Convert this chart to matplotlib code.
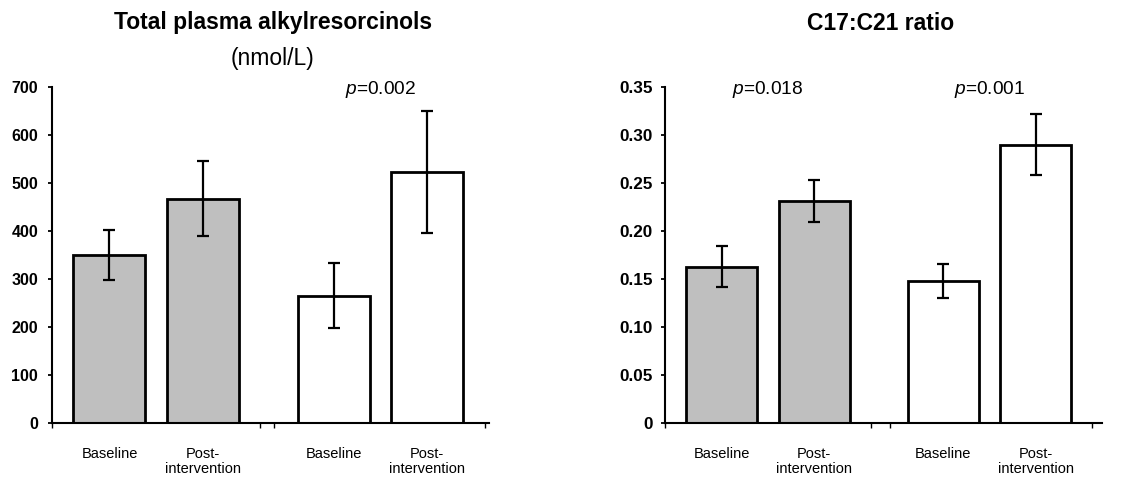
import matplotlib
matplotlib.use("Agg")
import matplotlib.pyplot as plt
import matplotlib.transforms as mtransforms

plt.rcParams['font.family'] = ['Liberation Sans', 'DejaVu Sans']
plt.rcParams['mathtext.fontset'] = 'custom'
plt.rcParams['mathtext.it'] = 'Liberation Sans:italic'
plt.rcParams['mathtext.rm'] = 'Liberation Sans'

# ---- data ----
categories = ["Baseline", "Post-\nintervention", "Baseline", "Post-\nintervention"]
group_of_bar = [0, 0, 1, 1]
group_colors = ["#bfbfbf", "#ffffff"]

total_ar_values = [350, 467, 265, 522]
total_ar_errors = [53, 78, 68, 127]
total_ar_pvalues = [None, "0.002"]
total_ar_yticks = [0, 100, 200, 300, 400, 500, 600, 700]
total_ar_yticklabels = ["0", "100", "200", "300", "400", "500", "600", "700"]

ratio_values = [0.163, 0.231, 0.148, 0.290]
ratio_errors = [0.021, 0.022, 0.018, 0.032]
ratio_pvalues = ["0.018", "0.001"]
ratio_yticks = [0, 0.05, 0.10, 0.15, 0.20, 0.25, 0.30, 0.35]
ratio_yticklabels = ["0", "0.05", "0.10", "0.15", "0.20", "0.25", "0.30", "0.35"]

# ---- layout ----
W, H = 1139, 478
fig = plt.figure(figsize=(W / 100, H / 100), dpi=100)

group_step = 2.4
half_span = 1.115
bar_width = 0.77

def draw_panel(rect, values, errors, pvals, yticks, yticklabels, ymax, xmax,
               label_pad, ysize, pgap):
    ax = fig.add_axes(rect)
    xs = [group_of_bar[i] * group_step + (i % 2) for i in range(len(values))]
    colors = [group_colors[g] for g in group_of_bar]
    ax.bar(xs, values, width=bar_width, color=colors, edgecolor="black",
           linewidth=2.0, zorder=2)
    ax.errorbar(xs, values, yerr=errors, fmt="none", ecolor="black",
                elinewidth=1.6, capsize=4.5, capthick=1.6, zorder=3)
    ax.set_ylim(0, ymax)
    ax.set_xlim(-half_span + 0.5, xmax)
    ax.set_yticks(yticks)
    ax.set_yticklabels(yticklabels, fontsize=ysize, fontweight="bold")
    ax.tick_params(axis="y", direction="out", length=3, width=1.3, pad=label_pad)
    # category labels as major ticks (no tick marks)
    ax.set_xticks(xs)
    ax.set_xticklabels(categories, fontsize=10.5, linespacing=1.15)
    ax.tick_params(axis="x", which="major", length=0, pad=17)
    # group boundary ticks
    bounds = []
    for g in range(2):
        c = g * group_step + 0.5
        bounds += [c - half_span, c + half_span]
    bounds[2] = bounds[1] + pgap
    ax.set_xticks(bounds, minor=True)
    ax.tick_params(axis="x", which="minor", direction="out", length=3.5, width=1.0)
    for s in ["top", "right"]:
        ax.spines[s].set_visible(False)
    for s in ["left", "bottom"]:
        ax.spines[s].set_linewidth(1.5)
    # p-values
    trans = mtransforms.blended_transform_factory(ax.transData, ax.transAxes)
    for g, p in enumerate(pvals):
        if p is None:
            continue
        ax.text(g * group_step + 0.5, 0.992, r"$\mathit{p}$=" + p, transform=trans,
                ha="center", va="center", fontsize=13.8)
    return ax

ax_bottom = (H - 423) / H
ax_height = 336 / H

ax1 = draw_panel([52 / W, ax_bottom, 437 / W, ax_height], total_ar_values, total_ar_errors,
                 total_ar_pvalues, total_ar_yticks, total_ar_yticklabels, 700, 4.06,
                 7, 11.5, 0.15)
ax2 = draw_panel([665 / W, ax_bottom, 437 / W, ax_height], ratio_values, ratio_errors,
                 ratio_pvalues, ratio_yticks, ratio_yticklabels, 0.35, 4.12,
                 6, 12.3, 0.21)

fig.text(273 / W, 1 - 23 / H, "Total plasma alkylresorcinols", ha="center", va="center",
         fontsize=16.5, fontweight="bold")
fig.text(273 / W, 1 - 58 / H, "(nmol/L)", ha="center", va="center", fontsize=16.5)
fig.text(881 / W, 1 - 24 / H, "C17:C21 ratio", ha="center", va="center",
         fontsize=16.5, fontweight="bold")

fig.savefig("out.png", dpi=100)
